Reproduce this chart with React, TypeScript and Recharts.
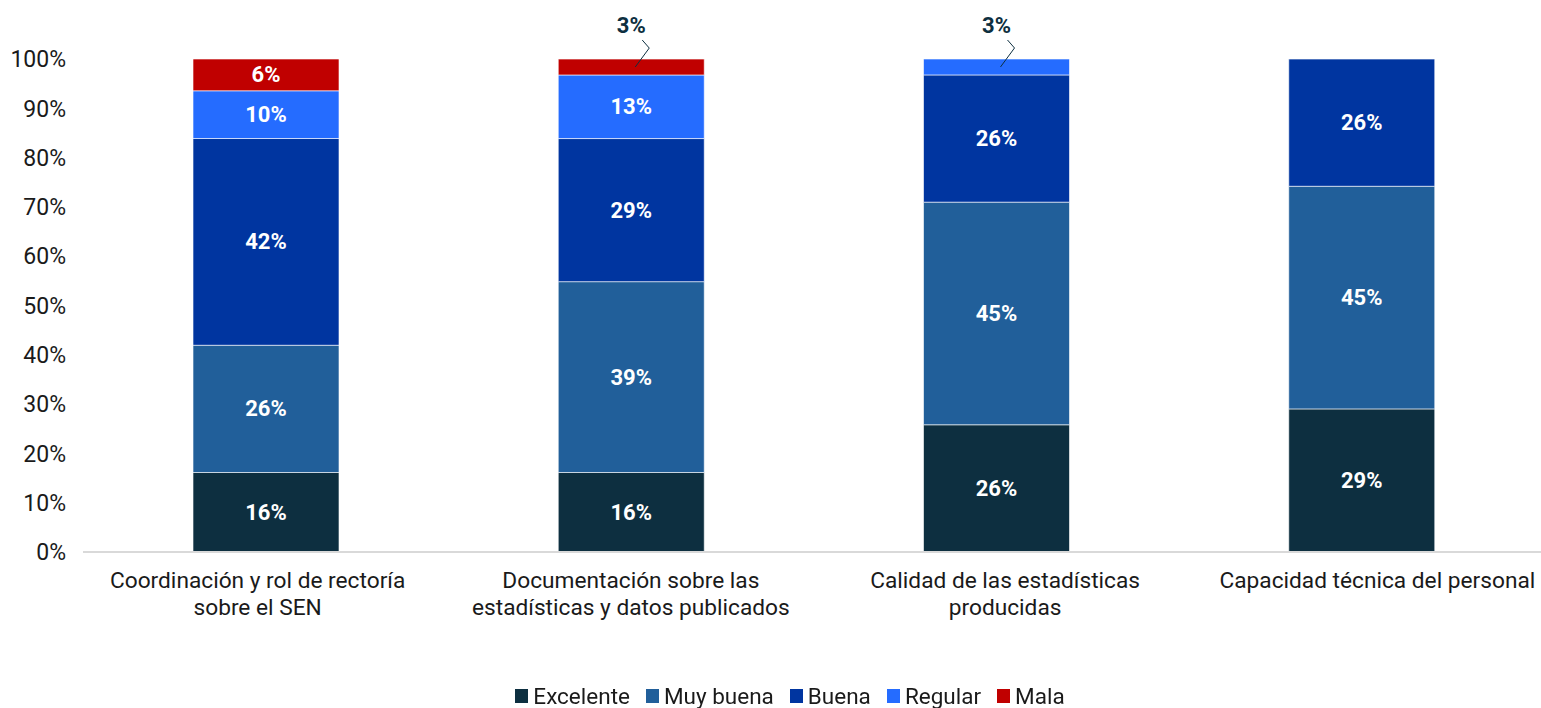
import React from 'react';
import { BarChart, Bar, XAxis, YAxis, Legend, LabelList } from 'recharts';

const categories = [
  'Coordinación y rol de rectoría\nsobre el SEN',
  'Documentación sobre las\nestadísticas y datos publicados',
  'Calidad de las estadísticas\nproducidas',
  'Capacidad técnica del personal',
];
const excelente = [16.13, 16.13, 25.81, 29.03];
const muyBuena = [25.81, 38.71, 45.16, 45.16];
const buena = [41.94, 29.03, 25.81, 25.81];
const regular = [9.68, 12.9, 3.23, 0];
const mala = [6.45, 3.23, 0, 0];
const yTicks = [0, 10, 20, 30, 40, 50, 60, 70, 80, 90, 100];

const seriesNames = ['Excelente', 'Muy buena', 'Buena', 'Regular', 'Mala'];
const seriesKeys = ['excelente', 'muyBuena', 'buena', 'regular', 'mala'];
const seriesColors = ['#0d2f40', '#215f9a', '#0035a0', '#256cff', '#c00000'];

const data = categories.map((c, i) => ({
  name: c,
  excelente: excelente[i],
  muyBuena: muyBuena[i],
  buena: buena[i],
  regular: regular[i],
  mala: mala[i],
}));

const FONT = 'Roboto, sans-serif';
const TEXT = '#1a1a1a';
const tickShift = [-8, 0, 9, 16];

const SegmentLabel = (props: any) => {
  const { x, y, width, height, value } = props;
  if (!value) return null;
  const cx = x + width / 2;
  const txt = `${Math.round(value)}%`;
  if (value < 5) {
    const sy = y + height / 2;
    return (
      <g>
        <path
          d={`M${cx + 4},${sy} L${cx + 18},${y - 11} L${cx + 11},${y - 19}`}
          stroke="#0d2f40"
          strokeWidth={1}
          fill="none"
        />
        <text x={cx} y={y - 34} textAnchor="middle" dominantBaseline="central" fill="#0d2f40" fontSize={22} fontWeight={700} fontFamily={FONT}>
          {txt}
        </text>
      </g>
    );
  }
  return (
    <text x={cx} y={y + height / 2} textAnchor="middle" dominantBaseline="central" fill="#ffffff" fontSize={22} fontWeight={700} fontFamily={FONT}>
      {txt}
    </text>
  );
};

const CategoryTick = (props: any) => {
  const { x, y, payload, index } = props;
  const lines = String(payload.value).split('\n');
  const dx = tickShift[index] || 0;
  return (
    <g>
      {lines.map((l, i) => (
        <text key={i} x={x + dx} y={y + 20 + i * 27} textAnchor="middle" dominantBaseline="central" fill={TEXT} fontSize={22.7} fontFamily={FONT}>
          {l}
        </text>
      ))}
    </g>
  );
};

const LegendContent = () => (
  <div style={{ display: 'flex', justifyContent: 'center', alignItems: 'center', height: 24, fontFamily: FONT, fontSize: 22.5, color: TEXT, paddingLeft: 36 }}>
    {seriesNames.map((n, i) => (
      <div key={n} style={{ display: 'flex', alignItems: 'center', marginRight: i < seriesNames.length - 1 ? 16 : 0 }}>
        <div style={{ width: 13, height: 14, background: seriesColors[i], marginRight: 5 }} />
        <span>{n}</span>
      </div>
    ))}
  </div>
);

export default function App() {
  return (
    <div style={{ position: 'fixed', left: 0, top: 0, width: 1544, height: 708, background: '#fff', fontFamily: FONT }}>
      <BarChart width={1544} height={708} data={data} margin={{ top: 59, right: 0, left: 0, bottom: 0 }} barSize={146}>
        <YAxis
          type="number"
          domain={[0, 100]}
          ticks={yTicks}
          tickFormatter={(v: number) => `${v}%`}
          axisLine={false}
          tickLine={false}
          tickSize={0}
          tickMargin={17}
          width={83}
          tick={{ fill: TEXT, fontSize: 23, fontFamily: FONT }}
          interval={0}
        />
        <XAxis
          dataKey="name"
          axisLine={{ stroke: '#d9d9d9', strokeWidth: 2 }}
          tickLine={false}
          height={132}
          tick={<CategoryTick />}
          interval={0}
        />
        <Legend verticalAlign="bottom" content={<LegendContent />} wrapperStyle={{ width: 1544, left: 0 }} />
        {seriesKeys.map((k, i) => (
          <Bar key={k} dataKey={k} name={seriesNames[i]} stackId="a" fill={seriesColors[i]} stroke="#ffffff" strokeOpacity={0.6} strokeWidth={1} isAnimationActive={false}>
            <LabelList dataKey={k} content={<SegmentLabel />} />
          </Bar>
        ))}
      </BarChart>
    </div>
  );
}
